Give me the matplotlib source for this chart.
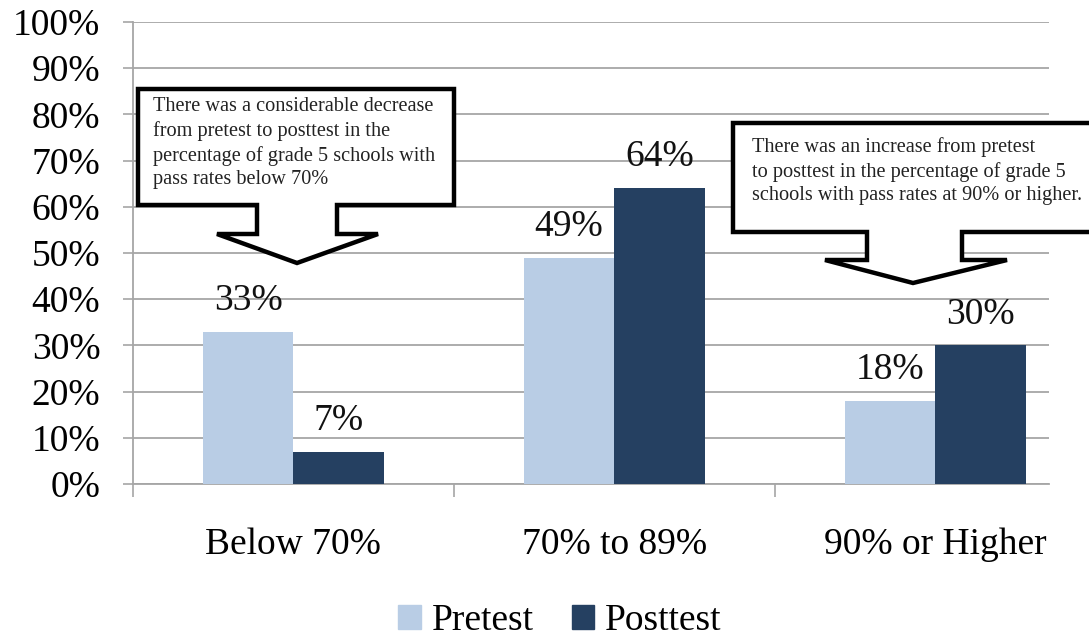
import matplotlib
matplotlib.use('Agg')
import matplotlib.pyplot as plt
from matplotlib.patches import Polygon, Patch
from matplotlib.ticker import FixedLocator
import numpy as np

plt.rcParams['font.family'] = ['Liberation Serif', 'DejaVu Serif']

categories = ['Below 70%', '70% to 89%', '90% or Higher']
pretest = [33, 49, 18]
posttest = [7, 64, 30]
series_names = ['Pretest', 'Posttest']

note_low = ('There was a considerable decrease\n'
            'from pretest to posttest in the\n'
            'percentage of grade 5 schools with\n'
            'pass rates below 70%')
note_high = ('There was an increase from pretest\n'
             'to posttest in the percentage of grade 5\n'
             'schools with pass rates at 90% or higher.')

light = '#B9CDE5'
dark = '#254061'
grid_c = '#A6A6A6'

W, H = 1089, 640
fig = plt.figure(figsize=(W / 100, H / 100), dpi=100)
ax = fig.add_axes([133 / W, 1 - 484 / H, (1049 - 133) / W, (484 - 22) / H])

x = np.arange(len(categories))
bw = 0.282
b1 = ax.bar(x - bw / 2, pretest, bw, color=light, label=series_names[0], zorder=3)
b2 = ax.bar(x + bw / 2, posttest, bw, color=dark, label=series_names[1], zorder=3)

for bars, vals in ((b1, pretest), (b2, posttest)):
    for rect, v in zip(bars, vals):
        ax.annotate(f'{v}%', (rect.get_x() + rect.get_width() / 2, v),
                    xytext=(0, 10), textcoords='offset points',
                    ha='center', va='bottom', fontsize=27, color='#111111')

ax.set_xlim(-0.5, 2.355)
ax.set_ylim(0, 100)
ax.set_yticks(np.arange(0, 101, 10))
ax.set_yticklabels([f'{v}%' for v in range(0, 101, 10)])
ax.yaxis.grid(True, color=grid_c, linewidth=1.3, zorder=0)
ax.tick_params(axis='y', length=7.5, width=1.2, color=grid_c, pad=16, labelsize=27)

ax.set_xticks(x)
ax.set_xticklabels(categories)
ax.xaxis.set_minor_locator(FixedLocator([-0.5, 0.5, 1.5]))
ax.tick_params(axis='x', which='major', length=0, pad=31, labelsize=27)
ax.tick_params(axis='x', which='minor', length=9, width=1.2, color=grid_c)

for s in ('top', 'right'):
    ax.spines[s].set_visible(False)
for s in ('left', 'bottom'):
    ax.spines[s].set_color(grid_c)
    ax.spines[s].set_linewidth(1.3)


def fig_xy(pts):
    return [(px / W, 1 - py / H) for px, py in pts]


def callout(left, right, top, bottom, s_left, s_right, s_bot, w_left, w_right, tip):
    # rectangle with a block arrow hanging from its lower edge
    pts = [(left, top), (right, top), (right, bottom), (s_right, bottom),
           (s_right, s_bot), (w_right, s_bot), tip, (w_left, s_bot),
           (s_left, s_bot), (s_left, bottom), (left, bottom)]
    fig.add_artist(Polygon(fig_xy(pts), closed=True, facecolor='white',
                           edgecolor='black', linewidth=3.2, joinstyle='miter',
                           transform=fig.transFigure, zorder=5))


callout(138, 454, 89, 205, 257, 337, 234, 217, 378, (297, 263))
callout(733, 1100, 123, 232, 867, 962, 260, 825, 1007, (913, 283))

fig.text(153 / W, 1 - 97 / H, note_low, ha='left', va='top', fontsize=14.6,
         linespacing=1.33, color='#222222', zorder=6)
fig.text(752 / W, 1 - 137 / H, note_high, ha='left', va='top', fontsize=14.6,
         linespacing=1.33, color='#222222', zorder=6)

handles = [Patch(color=light), Patch(color=dark)]
fig.legend(handles, series_names, loc='center', bbox_to_anchor=(560 / W, 1 - 621 / H),
           ncol=2, frameon=False, fontsize=27, handlelength=0.6, handleheight=0.6,
           handletextpad=0.3, columnspacing=1.0)

fig.savefig('out.png', dpi=100)
